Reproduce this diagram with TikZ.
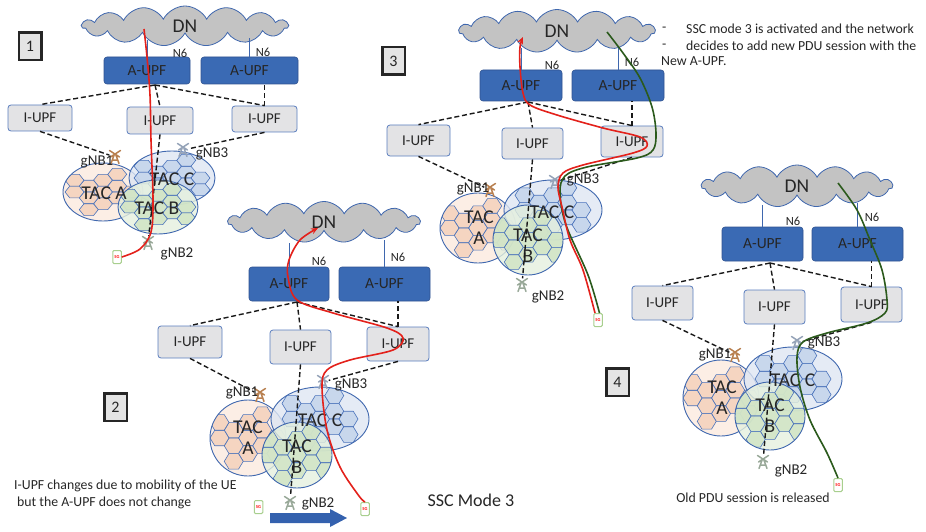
\documentclass[tikz,border=0pt]{standalone}
\usepackage{fontspec}
\setmainfont{Carlito}
\usetikzlibrary{shapes.symbols,arrows.meta}

\definecolor{cloudfill}{HTML}{C3C3C3}
\definecolor{edgeblue}{HTML}{3F67AE}
\definecolor{celledge}{HTML}{4A73BB}
\definecolor{aupffill}{HTML}{3A6AB4}
\definecolor{aupfedge}{HTML}{2F5290}
\definecolor{iupffill}{HTML}{E3E3E5}
\definecolor{iupfedge}{HTML}{5A7DBE}
\definecolor{tacAbg}{HTML}{FBEADF}
\definecolor{tacAhex}{HTML}{F4CFB8}
\definecolor{tacCbg}{HTML}{DEE6F3}
\definecolor{tacChex}{HTML}{C2D2EA}
\definecolor{tacBbg}{HTML}{E5F0DE}
\definecolor{tacBhex}{HTML}{CFE3C3}
\definecolor{pathred}{HTML}{E3211B}
\definecolor{pathgreen}{HTML}{2B5A1C}
\definecolor{twrA}{HTML}{B88050}
\definecolor{twrB}{HTML}{98A898}
\definecolor{twrC}{HTML}{95A3B8}
\definecolor{phonegreen}{HTML}{A8CF8E}
\definecolor{txt}{HTML}{262626}
\definecolor{moveblue}{HTML}{3461AE}
\definecolor{boxgray}{HTML}{E4E4E4}

\tikzset{
  dn/.style={cloud, cloud puffs=15, cloud puff arc=125, cloud ignores aspect,
    draw=edgeblue, line width=0.8pt, fill=cloudfill, text=txt,
    font=\fontsize{19.5}{20}\selectfont, inner sep=0pt},
  aupf/.style={rectangle, rounded corners=3pt, draw=aupfedge, line width=0.6pt,
    fill=aupffill, text=txt, font=\fontsize{15.5}{16}\selectfont, inner sep=0pt},
  iupf/.style={rectangle, rounded corners=3pt, draw=iupfedge, line width=0.8pt,
    fill=iupffill, text=txt, font=\fontsize{15}{16}\selectfont, inner sep=0pt},
  n6lab/.style={text=txt, font=\fontsize{12.5}{13}\selectfont, inner sep=0pt},
  gnblab/.style={text=txt, font=\fontsize{15}{15}\selectfont, inner sep=0pt},
  taclab/.style={text=txt, font=\fontsize{19.5}{21}\selectfont, inner sep=0pt, align=center},
  n6line/.style={draw=edgeblue, line width=1pt},
  link/.style={draw=black!90, line width=1.4pt, dash pattern=on 5pt off 2.8pt},
  numbox/.style={draw=black!85, line width=2.5pt, fill=boxgray, text=txt,
    font=\fontsize{16}{16}\selectfont, inner sep=0pt,
    minimum width=22.5pt, minimum height=27.5pt},
  gnb/.style={inner sep=0pt, minimum width=11pt, minimum height=13pt},
  ue/.style={draw=phonegreen, line width=1pt, fill=white, rounded corners=1.2pt,
    minimum width=8.5pt, minimum height=13pt, inner sep=0pt, text=red,
    font=\fontsize{4.5}{5}\selectfont\bfseries},
  redpath/.style={draw=pathred, line width=1.6pt},
  greenpath/.style={draw=pathgreen, line width=1.6pt},
  note/.style={text=txt, font=\fontsize{13.8}{15}\selectfont, inner sep=0pt, anchor=west},
  tower/.pic={
    \draw[#1, line width=1.5pt, line cap=round]
      (-4,6.5) -- (-0.9,-2) (4,6.5) -- (0.9,-2)
      (-2.8,3) -- (2.8,3)
      (-5.5,-6.5) -- (4.5,0) (5.5,-6.5) -- (-4.5,0);
  }
}

% tracking area: ellipse with a cluster of hexagonal cells
% #1 #2 centre, #3 #4 radii, #5 #6 cell scale, #7 area colour, #8 cell colour
\newcommand\tacarea[8]{%
  \fill[#7, fill opacity=0.8] (#1,#2) ellipse [x radius=#3, y radius=#4];
  \begin{scope}
    \clip (#1,#2) ellipse [x radius=#3, y radius=#4];
    \begin{scope}[shift={(#1,#2)}, xscale=#5, yscale=#6]
      \foreach \hx/\hy in {0/0, 0/-1.732, 0/1.732, -1.5/-0.866, -1.5/0.866,
          1.5/-0.866, 1.5/0.866, -3/0, 3/0, -3/-1.732, 3/1.732,
          -1.5/2.598, 1.5/-2.598}
        \draw[draw=celledge, line width=0.6pt, fill=#8, fill opacity=0.8]
          (\hx+1,\hy) -- (\hx+0.5,\hy+0.866) -- (\hx-0.5,\hy+0.866) --
          (\hx-1,\hy) -- (\hx-0.5,\hy-0.866) -- (\hx+0.5,\hy-0.866) -- cycle;
    \end{scope}
  \end{scope}
  \draw[draw=edgeblue, line width=0.9pt] (#1,#2) ellipse [x radius=#3, y radius=#4];
}

\begin{document}
\begin{tikzpicture}[x=1pt, y=-1pt]
\useasboundingbox (0,0) rectangle (926,532);

%%%%%%%%%%%%%%%%%%%% step 1
\node[numbox] (n1) at (30,46.5) {1};
\node[dn, minimum width=206pt, minimum height=40pt] (p1dn) at (185,26) {DN};
\node[aupf, minimum width=86pt, minimum height=27pt] (p1a1) at (147,70.5) {A-UPF};
\node[aupf, minimum width=97pt, minimum height=27pt] (p1a2) at (249.5,70.5) {A-UPF};
\node[n6lab] (p1l1) at (180,53) {N6};
\node[n6lab] (p1l2) at (263,52) {N6};
\draw[n6line] (p1a1.north) -- ++(0,-17);
\draw[n6line] (p1a2.north) -- ++(0,-19);
\node[iupf, minimum width=64pt, minimum height=26pt] (p1i1) at (40,118) {I-UPF};
\node[iupf, minimum width=66pt, minimum height=27pt] (p1i2) at (160,120.5) {I-UPF};
\node[iupf, minimum width=65pt, minimum height=26pt] (p1i3) at (264.5,119) {I-UPF};
\coordinate (p1hub) at (155,85);
\draw[link] (p1hub) -- (p1i1.north);
\draw[link] (p1hub) -- (p1i2.north);
\draw[link] (p1hub) -- (p1i3.north);
\draw[link] (p1i3.north) -- (p1i3.north |- p1a2.south);
\tacarea{103}{192}{40}{29}{9.5}{6.8}{tacAbg}{tacAhex}
\tacarea{172}{178}{43}{27}{9.5}{6.8}{tacCbg}{tacChex}
\tacarea{158}{207}{40}{27}{9.5}{6.8}{tacBbg}{tacBhex}
\node[taclab] (p1ta) at (104,193) {TAC A};
\node[taclab] (p1tc) at (172,179) {TAC C};
\node[taclab] (p1tb) at (157,208) {TAC B};
\node[gnb] (p1g1) at (115,157) {}; \pic at (p1g1) {tower=twrA};
\node[gnb] (p1g2) at (148,243) {}; \pic at (p1g2) {tower=twrB};
\node[gnb] (p1g3) at (183,150) {}; \pic at (p1g3) {tower=twrC};
\draw[link] (p1i1.south) -- (p1g1);
\draw[link] (p1i2.south) -- (p1g2);
\draw[link] (p1i3.south) -- (p1g3);
\node[gnblab] (p1g1l) at (97,162) {gNB1};
\node[gnblab] (p1g3l) at (212,154) {gNB3};
\node[gnblab] (p1g2l) at (177,254) {gNB2};
\node[ue] (p1ue) at (117,257) {5G};
\coordinate (p1top) at (144,29);
\draw[redpath] plot[smooth, tension=0.55] coordinates {(p1ue.east) (140,249)
  (151,232) (153,200) (151,140) (150,95) (147,57) (p1top)};

%%%%%%%%%%%%%%%%%%%% step 2
\node[numbox] (n2) at (115.5,407) {2};
\node[dn, minimum width=192pt, minimum height=41pt] (p2dn) at (324,222) {DN};
\node[aupf, minimum width=80pt, minimum height=34pt] (p2a1) at (289,284) {A-UPF};
\node[aupf, minimum width=91pt, minimum height=34pt] (p2a2) at (384.5,284) {A-UPF};
\node[n6lab] (p2l1) at (319,261) {N6};
\node[n6lab] (p2l2) at (398,257) {N6};
\draw[n6line] (p2a1.north) -- ++(0,-24);
\draw[n6line] (p2a2.north) -- ++(0,-27);
\node[iupf, minimum width=64pt, minimum height=32pt] (p2i1) at (190,342) {I-UPF};
\node[iupf, minimum width=61pt, minimum height=34pt] (p2i2) at (300.5,347) {I-UPF};
\node[iupf, minimum width=62pt, minimum height=34pt] (p2i3) at (398,344) {I-UPF};
\coordinate (p2hub) at (297,302);
\draw[link] (p2hub) -- (p2i1.north);
\draw[link] (p2hub) -- (p2i2.north);
\draw[link] (p2hub) -- (p2i3.north);
\draw[link] (p2i3.north) -- (p2i3.north |- p2a2.south);
\tacarea{248}{438}{38}{38}{9.5}{9}{tacAbg}{tacAhex}
\tacarea{320}{419}{49}{32}{9.5}{9}{tacCbg}{tacChex}
\tacarea{297}{455}{35}{33}{9.5}{9}{tacBbg}{tacBhex}
\node[taclab] (p2ta) at (248,438) {TAC\\A};
\node[taclab] (p2tc) at (320,420) {TAC C};
\node[taclab] (p2tb) at (297,457) {TAC\\B};
\node[gnb] (p2g1) at (260,395) {}; \pic at (p2g1) {tower=twrA};
\node[gnb] (p2g2) at (290,503) {}; \pic at (p2g2) {tower=twrB};
\node[gnb] (p2g3) at (323,382) {}; \pic at (p2g3) {tower=twrC};
\draw[link] (p2i1.south) -- (p2g1);
\draw[link] (p2i2.south) -- (p2g2);
\draw[link] (p2i3.south) -- (p2g3);
\node[gnblab] (p2g1l) at (242,393) {gNB1};
\node[gnblab] (p2g3l) at (351,385) {gNB3};
\node[gnblab] (p2g2l) at (318,504) {gNB2};
\node[ue] (p2ue1) at (258.5,507) {5G};
\node[ue] (p2ue2) at (365,509) {5G};
% movement of the UE from gNB1/gNB2 towards gNB3
\fill[moveblue] (270,513) -- (330,513) -- (330,509) -- (347,518) -- (330,527)
  -- (330,523) -- (270,523) -- cycle;
\coordinate (p2top) at (318,228);
\draw[redpath, -{Stealth[length=7pt, width=6pt]}] plot[smooth, tension=0.55]
  coordinates {(p2ue2.north) (359,496) (340,467) (327,430) (322,387) (327,370)
  (350,360) (393,350) (403,338) (387,328) (333,313) (297,300) (288,277)
  (289,260) (300,240) (p2top)};
\node[note] (t1) at (14,486) {I-UPF changes due to mobility of the UE};
\node[note] (t2) at (17,503) {but the A-UPF does not change};
\node[text=txt, font=\fontsize{18}{18}\selectfont, inner sep=0pt] (ssc) at (471,500) {SSC Mode 3};

%%%%%%%%%%%%%%%%%%%% step 3
\node[numbox] (n3) at (393.5,61) {3};
\node[dn, minimum width=196pt, minimum height=43pt] (p3dn) at (557,31) {DN};
\node[aupf, minimum width=82pt, minimum height=31pt] (p3a1) at (521,85.5) {A-UPF};
\node[aupf, minimum width=92pt, minimum height=31pt] (p3a2) at (618,85.5) {A-UPF};
\node[n6lab] (p3l1) at (552,65) {N6};
\node[n6lab] (p3l2) at (632,62) {N6};
\draw[n6line] (p3a1.north) -- ++(0,-22);
\draw[n6line] (p3a2.north) -- ++(0,-23);
\node[iupf, minimum width=63pt, minimum height=31pt] (p3i1) at (418.5,140.5) {I-UPF};
\node[iupf, minimum width=61pt, minimum height=31pt] (p3i2) at (532.5,143.5) {I-UPF};
\node[iupf, minimum width=62pt, minimum height=31pt] (p3i3) at (632,141.5) {I-UPF};
\coordinate (p3hub) at (528,102);
\draw[link] (p3hub) -- (p3i1.north);
\draw[link] (p3hub) -- (p3i2.north);
\draw[link] (p3hub) -- (p3i3.north);
\draw[link] (p3i3.north) -- (p3i3.north |- p3a2.south);
\tacarea{478}{228}{38}{35}{9.5}{8.5}{tacAbg}{tacAhex}
\tacarea{553}{210}{49}{30}{9.5}{8.5}{tacCbg}{tacChex}
\tacarea{528}{240}{35}{35}{9.5}{8.5}{tacBbg}{tacBhex}
\node[taclab] (p3ta) at (479,228) {TAC\\A};
\node[taclab] (p3tc) at (552,212) {TAC C};
\node[taclab] (p3tb) at (528,246) {TAC\\B};
\node[gnb] (p3g1) at (490,190) {}; \pic at (p3g1) {tower=twrA};
\node[gnb] (p3g2) at (522,285) {}; \pic at (p3g2) {tower=twrB};
\node[gnb] (p3g3) at (555,182) {}; \pic at (p3g3) {tower=twrC};
\draw[link] (p3i1.south) -- (p3g1);
\draw[link] (p3i2.south) -- (p3g2);
\draw[link] (p3i3.south) -- (p3g3);
\node[gnblab] (p3g1l) at (473,189) {gNB1};
\node[gnblab] (p3g3l) at (583,180) {gNB3};
\node[gnblab] (p3g2l) at (548,297) {gNB2};
\node[ue] (p3ue) at (598,320) {5G};
\coordinate (p3newtop) at (607,32);
\coordinate (p3oldtop) at (523,37);
\draw[greenpath] plot[smooth, tension=0.55] coordinates {([xshift=1.5pt]p3ue.north)
  (588,275) (566,225) (560,193) (565,176) (587,167) (637,158) (653,150)
  (656,133) (652,107) (640,78) (623,53) (p3newtop)};
\draw[redpath, -{Stealth[length=7pt, width=6pt]}] plot[smooth, tension=0.55]
  coordinates {([xshift=-3pt]p3ue.north) (583,270) (570,240) (562,207) (558,187)
  (563,173) (583,165) (633,153) (647,146) (640,137) (603,128) (557,115)
  (530,105) (523,93) (520,67) (520,47) (p3oldtop)};
\node[note] (d1) at (662,29) {-};
\node[note] (s1) at (686,29) {SSC mode 3 is activated and the network};
\node[note] (d2) at (662,46) {-};
\node[note] (s2) at (686,46) {decides to add new PDU session with the};
\node[note] (s3) at (661,61) {New A-UPF.};

%%%%%%%%%%%%%%%%%%%% step 4
\node[numbox] (n4) at (617.5,382) {4};
\node[dn, minimum width=191pt, minimum height=42pt] (p4dn) at (797,186) {DN};
\node[aupf, minimum width=81pt, minimum height=34pt] (p4a1) at (762.5,244) {A-UPF};
\node[aupf, minimum width=91pt, minimum height=34pt] (p4a2) at (857.5,244) {A-UPF};
\node[n6lab] (p4l1) at (793,221) {N6};
\node[n6lab] (p4l2) at (872,217) {N6};
\draw[n6line] (p4a1.north) -- ++(0,-22);
\draw[n6line] (p4a2.north) -- ++(0,-24);
\node[iupf, minimum width=61pt, minimum height=34pt] (p4i1) at (662.5,303) {I-UPF};
\node[iupf, minimum width=61pt, minimum height=34pt] (p4i2) at (774.5,307) {I-UPF};
\node[iupf, minimum width=61pt, minimum height=35pt] (p4i3) at (871.5,304.5) {I-UPF};
\coordinate (p4hub) at (770,263);
\draw[link] (p4hub) -- (p4i1.north);
\draw[link] (p4hub) -- (p4i2.north);
\draw[link] (p4hub) -- (p4i3.north);
\draw[link] (p4i3.north) -- (p4i3.north |- p4a2.south);
\tacarea{721}{398}{38}{38}{9.5}{9}{tacAbg}{tacAhex}
\tacarea{793}{379}{49}{32}{9.5}{9}{tacCbg}{tacChex}
\tacarea{770}{416}{35}{34}{9.5}{9}{tacBbg}{tacBhex}
\node[taclab] (p4ta) at (722,398) {TAC\\A};
\node[taclab] (p4tc) at (793,380) {TAC C};
\node[taclab] (p4tb) at (770,416) {TAC\\B};
\node[gnb] (p4g1) at (735,355) {}; \pic at (p4g1) {tower=twrA};
\node[gnb] (p4g2) at (763,462) {}; \pic at (p4g2) {tower=twrB};
\node[gnb] (p4g3) at (797,343) {}; \pic at (p4g3) {tower=twrC};
\draw[link] (p4i1.south) -- (p4g1);
\draw[link] (p4i2.south) -- (p4g2);
\draw[link] (p4i3.south) -- (p4g3);
\node[gnblab] (p4g1l) at (715,355) {gNB1};
\node[gnblab] (p4g3l) at (824,343) {gNB3};
\node[gnblab] (p4g2l) at (791,471) {gNB2};
\node[ue] (p4ue) at (838,485) {5G};
\coordinate (p4top) at (838,183);
\draw[greenpath] plot[smooth, tension=0.55] coordinates {(p4ue.north) (827,453)
  (810,420) (800,387) (797,357) (803,342) (827,333) (867,323) (885,313)
  (887,300) (882,270) (870,240) (857,210) (p4top)};
\node[text=txt, font=\fontsize{13.8}{15}\selectfont, inner sep=0pt] (old) at (753,498)
  {Old PDU session is released};

\end{tikzpicture}
\end{document}
